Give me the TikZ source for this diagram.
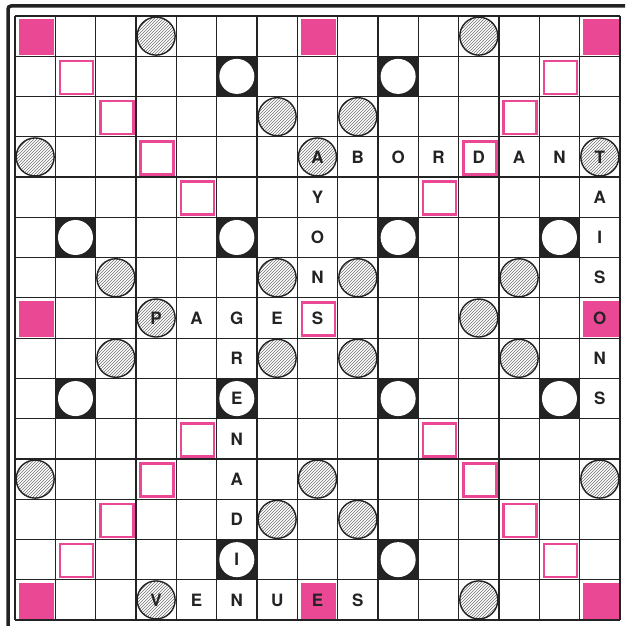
\documentclass[tikz,border=0pt]{standalone}
\usepackage{fontspec}
\setmainfont{TeX Gyre Heros}
\usetikzlibrary{patterns}
\definecolor{pinkc}{RGB}{234,72,148}
\definecolor{ink}{RGB}{35,35,35}
\begin{document}
\begin{tikzpicture}[x=1pt,y=-1pt,
  gridline/.style={line width=1.2pt, draw=ink},
  framebar/.style={line width=3.5pt, draw=ink},
  twsq/.style={fill=pinkc},
  dwsq/.style={draw=pinkc, line width=2.5pt},
  tlsq/.style={fill=ink},
  tlcirc/.style={fill=white},
  dlcirc/.style={draw=ink, line width=1.4pt, pattern=north east lines, pattern color=black!55},
  tile/.style={font=\bfseries\fontsize{17}{17}\selectfont, text=ink, inner sep=0pt}
]
\useasboundingbox (0,0) rectangle (625,626);
\clip (0,0) rectangle (625,626);
\fill[white] (0,0) rectangle (625,626);
% outer frame
\draw[framebar, rounded corners=3pt] (8,640) -- (8,6) -- (640,6);
% triple word (pink filled)
\foreach \r/\c in {0/0,0/7,0/14,7/0,7/14,14/0,14/7,14/14}
  \fill[twsq] ({15+\c*40.33+3.5},{16+\r*40.27+3.5}) rectangle ++(35.5,35.5);
% triple letter (black square, white circle)
\foreach \r/\c in {1/5,1/9,5/1,5/5,5/9,5/13,9/1,9/5,9/9,9/13,13/5,13/9} {
  \fill[tlsq] ({15+\c*40.33},{16+\r*40.27}) rectangle ++(40.33,40.27);
  \fill[tlcirc] ({15+(\c+0.5)*40.33},{16+(\r+0.5)*40.27}) circle (17.5pt);
}
% double letter (hatched circles)
\foreach \r/\c in {0/3,0/11,2/6,2/8,3/0,3/7,3/14,6/2,6/6,6/8,6/12,7/3,7/11,8/2,8/6,8/8,8/12,11/0,11/7,11/14,12/6,12/8,14/3,14/11}
  \draw[dlcirc] ({15+(\c+0.5)*40.33},{16+(\r+0.5)*40.27}) circle (19pt);
% grid
\foreach \i in {0,...,15} {
  \draw[gridline] ({15+\i*40.33},16) -- ({15+\i*40.33},{16+15*40.27});
  \draw[gridline] (15,{16+\i*40.27}) -- ({15+15*40.33},{16+\i*40.27});
}
% double word (pink outline)
\foreach \r/\c in {1/1,2/2,3/3,4/4,1/13,2/12,3/11,4/10,10/4,11/3,12/2,13/1,10/10,11/11,12/12,13/13,7/7}
  \draw[dwsq] ({15+(\c+0.5)*40.33+1-16.5},{16+(\r+0.5)*40.27+1-16.5}) rectangle ++(33,33);
% letters
\foreach \r/\c/\l in {3/7/A,3/8/B,3/9/O,3/10/R,3/11/D,3/12/A,3/13/N,3/14/T,
  4/7/Y,5/7/O,6/7/N,7/7/S,
  4/14/A,5/14/I,6/14/S,7/14/O,8/14/N,9/14/S,
  7/3/P,7/4/A,7/5/G,7/6/E,
  8/5/R,9/5/E,10/5/N,11/5/A,12/5/D,13/5/I,
  14/3/V,14/4/E,14/5/N,14/6/U,14/7/E,14/8/S}
  \node[tile] (L-\r-\c) at ({15+(\c+0.5)*40.33},{16+(\r+0.5)*40.27}) {\l};
\end{tikzpicture}
\end{document}
